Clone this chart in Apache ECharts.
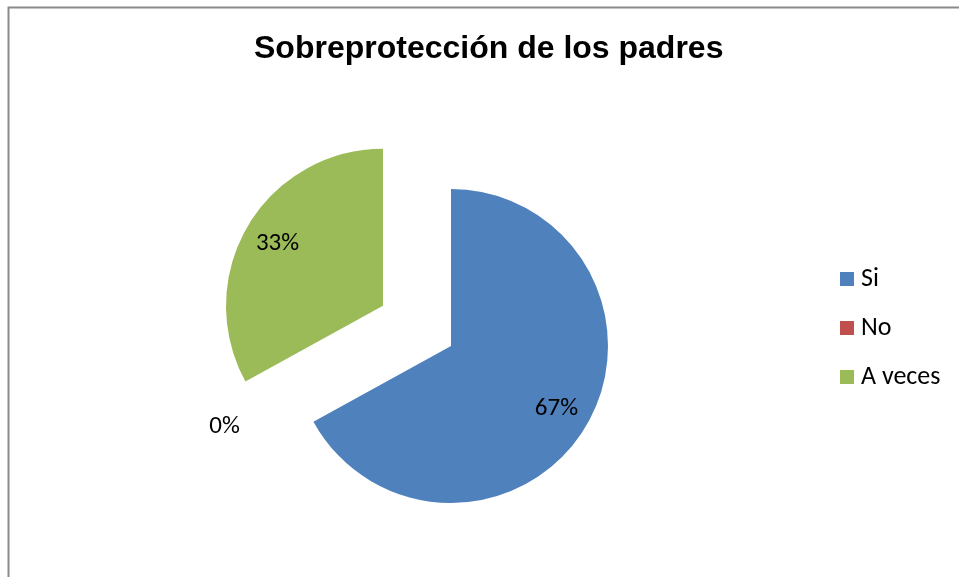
<!DOCTYPE html>
<html>
<head>
<meta charset="utf-8">
<script src="https://cdn.jsdelivr.net/npm/echarts@6/dist/echarts.min.js"></script>
<style>
  html, body { margin: 0; padding: 0; background: #fff; }
  #chart { width: 959px; height: 577px; }
</style>
</head>
<body>
<div id="chart"></div>
<script>
var titleText = "Sobreprotección de los padres";
var categories = ["Si", "No", "A veces"];
var values = [67, 0, 33];
var colors = ["#4F81BD", "#C0504D", "#9BBB59"];
var labelFont = "Carlito, Lato, 'Open Sans', sans-serif";

var chartDom = echarts.init(document.getElementById("chart"));

// pie data: the third slice is pulled out like in the original
var pieData = categories.map(function (name, i) {
  return {
    name: name,
    value: values[i],
    selected: i === 2,
    itemStyle: { color: colors[i] },
    label: { show: values[i] === 0 }
  };
});

// transparent ring only used to place the inside labels further out
var labelData = categories.map(function (name, i) {
  return {
    name: name,
    value: values[i],
    selected: i === 2,
    itemStyle: { color: "rgba(0,0,0,0)" },
    label: { show: values[i] !== 0 }
  };
});

var option = {
  animation: false,
  title: {
    text: titleText,
    left: 249,
    top: 28,
    textStyle: {
      fontFamily: "'Liberation Sans', Arial, sans-serif",
      fontSize: 32,
      fontWeight: "bold",
      color: "#000"
    }
  },
  legend: {
    orient: "vertical",
    left: 840,
    top: 266,
    padding: 0,
    icon: "rect",
    itemWidth: 14,
    itemHeight: 14,
    itemGap: 23,
    data: categories,
    selectedMode: false,
    textStyle: {
      fontFamily: labelFont,
      fontSize: 26,
      color: "#000",
      padding: [0, 0, 0, 2]
    }
  },
  graphic: [
    {
      type: "polyline",
      silent: true,
      shape: { points: [[8.5, 600], [8.5, 7.5], [970, 7.5]] },
      style: { fill: null, stroke: "#8a8a8a", lineWidth: 2 }
    }
  ],
  series: [
    {
      type: "pie",
      center: [451, 346],
      radius: 157,
      startAngle: 90,
      selectedMode: "single",
      selectedOffset: 79,
      percentPrecision: 0,
      avoidLabelOverlap: false,
      emphasis: { disabled: true },
      label: {
        position: "outside",
        formatter: "{d}%",
        fontFamily: labelFont,
        fontSize: 25,
        color: "#000"
      },
      labelLine: { show: false, length: 11, length2: 59 },
      data: pieData
    },
    {
      type: "pie",
      center: [451, 346],
      radius: [82, 157],
      startAngle: 90,
      silent: true,
      selectedMode: "single",
      selectedOffset: 79,
      percentPrecision: 0,
      emphasis: { disabled: true },
      label: {
        position: "inside",
        formatter: "{d}%",
        fontFamily: labelFont,
        fontSize: 25,
        color: "#000"
      },
      labelLine: { show: false },
      data: labelData
    }
  ]
};

chartDom.setOption(option);
</script>
</body>
</html>
